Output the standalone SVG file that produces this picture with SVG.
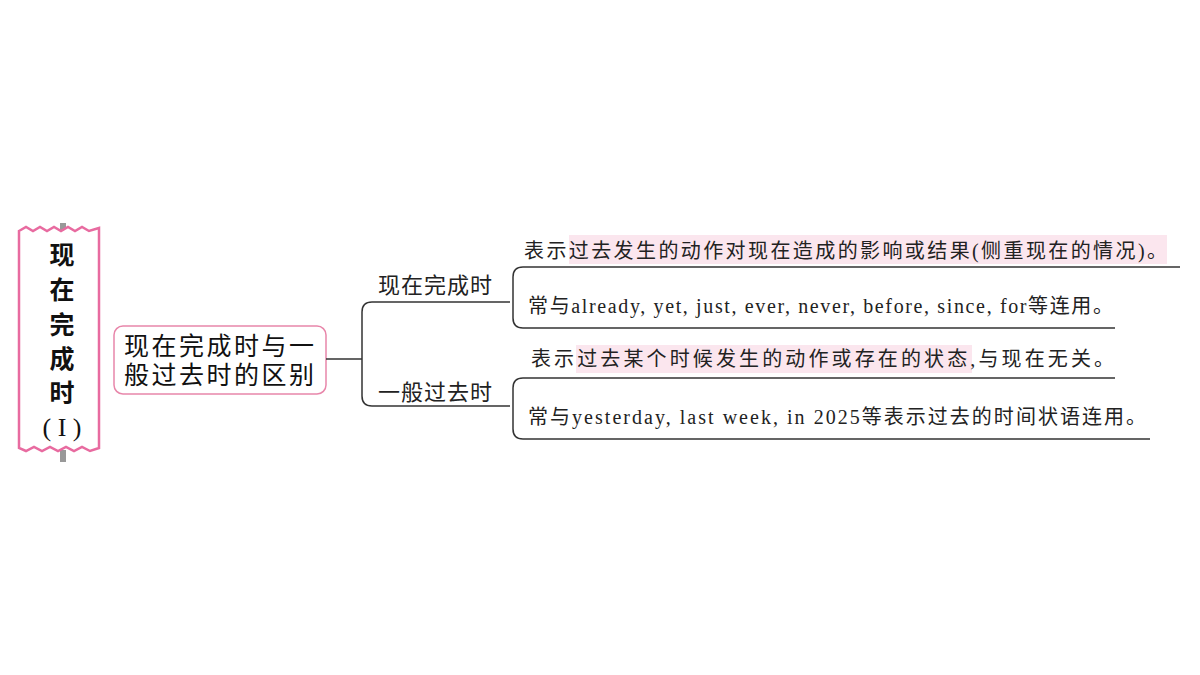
<svg xmlns="http://www.w3.org/2000/svg" width="1200" height="675" viewBox="0 0 1200 675">
<style>
.s{font-family:"Liberation Serif","Noto Sans CJK SC",serif;font-size:20px;fill:#222}
.l{font-family:"Noto Sans CJK SC",sans-serif;font-size:22px;fill:#222}
.c{fill:none;stroke:#333;stroke-width:1.5}
.hl{fill:#fbe6ee}
</style>
<rect width="1200" height="675" fill="#fff"/>
<g id="title">
<rect x="60" y="223" width="6" height="10" fill="#999"/>
<rect x="60" y="450" width="6" height="12" fill="#999"/>
<path d="M19,231 L26,227 L33,231 L40,227 L47,231 L54,227 L61,231 L68,227 L75,231 L82,227 L89,231 L99,228 L99,448 L90,451 L82,447 L74,451 L66,447 L58,451 L50,447 L42,451 L34,447 L26,451 L19,448 Z" fill="#fff" stroke="#e86ba0" stroke-width="2.5"/>
<text font-family="Noto Sans CJK SC,sans-serif" font-weight="bold" font-size="25" fill="#111" text-anchor="middle"><tspan x="62" y="264">现</tspan><tspan x="62" y="299">在</tspan><tspan x="62" y="334">完</tspan><tspan x="62" y="368">成</tspan><tspan x="62" y="402">时</tspan></text>
<text x="62" y="436" font-family="Liberation Serif,serif" font-size="26" fill="#111" text-anchor="middle">( I )</text>
</g>
<g id="mid">
<rect x="114" y="326" width="212" height="68" rx="9" fill="#fff" stroke="#e886aa" stroke-width="1.5"/>
<text font-family="Noto Sans CJK SC,sans-serif" font-size="25" fill="#111"><tspan x="124" y="355" textLength="190">现在完成时与一</tspan><tspan x="124" y="384" textLength="190">般过去时的区别</tspan></text>
</g>
<g id="connectors">
<path class="c" d="M326,359 H362 M372,302 H510 M372,406 H510 M362,312 V396 M372,302 Q362,302 362,312 M362,396 Q362,406 372,406" />
<path class="c" d="M1180,267 H523 Q513,267 513,277 V318 Q513,328 523,328 H1115"/>
<path class="c" d="M1115,378 H523 Q513,378 513,388 V429 Q513,439 523,439 H1150"/>
</g>
<g id="b1">
<text class="l" x="378" y="293" textLength="114">现在完成时</text>
<text class="l" x="378" y="400" textLength="114">一般过去时</text>
</g>
<g id="t1">
<rect class="hl" x="569" y="235" width="598" height="29"/>
<text class="s" x="524" y="258" textLength="643" lengthAdjust="spacing">表示过去发生的动作对现在造成的影响或结果(侧重现在的情况)。</text>
<text class="s" x="528" y="313" textLength="585" lengthAdjust="spacing">常与already, yet, just, ever, never, before, since, for等连用。</text>
</g>
<g id="t2">
<rect class="hl" x="576" y="345" width="396" height="28"/>
<text class="s" x="531" y="366" textLength="583" lengthAdjust="spacing">表示过去某个时候发生的动作或存在的状态,与现在无关。</text>
<text class="s" x="528" y="424" textLength="618" lengthAdjust="spacing">常与yesterday, last week, in 2025等表示过去的时间状语连用。</text>
</g>
</svg>
